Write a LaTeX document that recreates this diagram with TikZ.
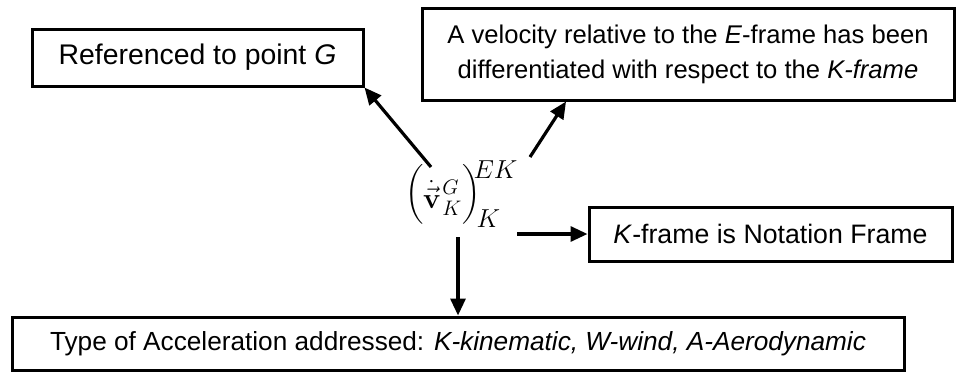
\RequirePackage{fix-cm}
\documentclass[tikz,border=0pt]{standalone}
\usepackage{amsmath}
\usepackage{exscale}
\usepackage[no-math]{fontspec}
\setmainfont{Liberation Sans}
\usetikzlibrary{arrows.meta,calc}
\newcommand{\fsz}[2]{\text{\fontsize{#1}{#1}\selectfont$#2$}}
\newcommand{\tallstrut}{\vrule height 32.25pt depth 17.75pt width 0pt}
\begin{document}
\begin{tikzpicture}[x=1pt,y=-1pt,
  box/.style={draw,line width=3pt,inner sep=0pt,align=center},
  arr/.style={line width=3.2pt,-{Triangle[length=17pt,width=15pt]}}]
\useasboundingbox (0,0) rectangle (957,372);
\node[box,minimum width=331pt,minimum height=57pt,font=\fontsize{28.4}{35}\selectfont] (b1) at (197.5,57.5) {Referenced to point \textit{G}};
\node[box,minimum width=532pt,minimum height=92pt,font=\fontsize{25.6}{35}\selectfont] (b2) at (688,54) {A velocity relative to the \textit{E}-frame has been\\differentiated with respect to the \textit{K-frame}};
\node[box,minimum width=363pt,minimum height=54pt,font=\fontsize{26.7}{32}\selectfont] (b3) at (770.5,234) {\textit{K}-frame is Notation Frame};
\node[box,minimum width=892pt,minimum height=53pt,font=\fontsize{26.2}{32}\selectfont] (b4) at (458,343.5) {Type of Acceleration addressed: \textit{K-kinematic, W-wind, A-Aerodynamic}};
\node[inner sep=0pt,anchor=base west,font=\fontsize{29}{36}\selectfont] (f) at (405,208)
  {$\raisebox{6pt}{$\left(\tallstrut\right.$}\mkern-1mu
    \dot{\vec{\mathbf{v}}}\mkern1mu
    \rlap{\raisebox{14pt}{\fsz{21}{G}}}\raisebox{-7pt}{\fsz{21}{K}}\mkern0mu
    \raisebox{6pt}{$\left.\tallstrut\right)$}\mkern-4.5mu
    \rlap{\raisebox{30pt}{\fsz{26}{EK}}}\hspace{3pt}\raisebox{-19pt}{\fsz{26}{K}}$};
\coordinate (t1) at (431,167);
\coordinate (t2) at (530,157);
\coordinate (t3) at (517,234);
\coordinate (t4) at (458,237);
\coordinate (h2) at ($(b2.south west)!0.272!(b2.south east)$);
\draw[arr] (t1) -- (b1.south east);
\draw[arr] (t2) -- (h2);
\draw[arr] (t3) -- (b3.west);
\draw[arr] (t4) -- (b4.north -| t4);
\end{tikzpicture}
\end{document}
